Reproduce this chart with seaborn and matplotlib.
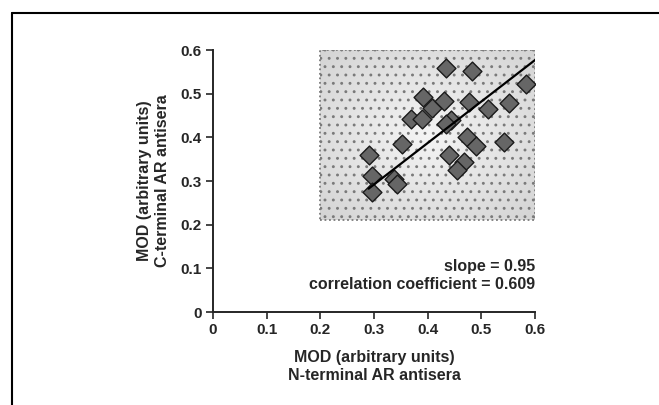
import numpy as np
import pandas as pd
import seaborn as sns
import matplotlib.pyplot as plt
from matplotlib.patches import Rectangle
from matplotlib.lines import Line2D

# MOD values
n_terminal = [0.434, 0.483, 0.583, 0.391, 0.409, 0.430, 0.477, 0.512, 0.551,
              0.369, 0.389, 0.443, 0.435, 0.353, 0.473, 0.490, 0.542, 0.291,
              0.440, 0.467, 0.454, 0.296, 0.338, 0.343, 0.296]
c_terminal = [0.558, 0.553, 0.522, 0.492, 0.468, 0.483, 0.480, 0.464, 0.478,
              0.441, 0.443, 0.440, 0.430, 0.384, 0.400, 0.380, 0.389, 0.359,
              0.359, 0.343, 0.325, 0.312, 0.304, 0.293, 0.275]
slope = 0.95
intercept = 0.007
fit_range = [0.29, 0.6]
box_x = [0.2, 0.6]
box_y = [0.21, 0.6]
ticks = [0, 0.1, 0.2, 0.3, 0.4, 0.5, 0.6]
tick_labels = ['0', '0.1', '0.2', '0.3', '0.4', '0.5', '0.6']

df = pd.DataFrame({'N': n_terminal, 'C': c_terminal})

sns.set_style('ticks')
plt.rcParams['font.family'] = ['Liberation Sans', 'DejaVu Sans']
plt.rcParams['hatch.color'] = '#b4b4b4'
plt.rcParams['hatch.linewidth'] = 0.9

fig = plt.figure(figsize=(6.59, 4.05), dpi=100)
ax = fig.add_axes([0.3232, 0.2296, 0.4886, 0.6469])

# shaded region: soft radial gradient (light centre) with a dotted screen
gx, gy = np.meshgrid(np.linspace(-1, 1, 120), np.linspace(-1, 1, 120))
grad = np.sqrt(gx ** 2 + gy ** 2) / np.sqrt(2)
shade = 0.96 - 0.13 * grad
rgb = np.dstack([shade, shade, shade])
ax.imshow(rgb, extent=[box_x[0], box_x[1], box_y[0], box_y[1]], origin='lower',
          aspect='auto', zorder=1, interpolation='bilinear')
ax.add_patch(Rectangle((box_x[0], box_y[0]), box_x[1] - box_x[0], box_y[1] - box_y[0],
                       facecolor='none', edgecolor='#7a7a7a', linestyle=(0, (1, 1.5)),
                       linewidth=1.3, hatch='..', zorder=2))

sns.scatterplot(data=df, x='N', y='C', marker='D', s=92, color='#666666',
                edgecolor='#1a1a1a', linewidth=1.0, ax=ax, zorder=3, legend=False)

xs = np.array(fit_range)
ax.plot(xs, slope * xs + intercept, color='black', linewidth=1.6, zorder=4)

ax.set_xlim(0, 0.6)
ax.set_ylim(0, 0.6)
ax.set_xticks(ticks)
ax.set_yticks(ticks)
ax.set_xticklabels(tick_labels, fontsize=11, fontweight='bold')
ax.set_yticklabels(tick_labels, fontsize=11, fontweight='bold')
ax.tick_params(direction='out', length=5, width=1.2, pad=3)
sns.despine(ax=ax)
for s in ['left', 'bottom']:
    ax.spines[s].set_linewidth(1.4)
for lab in ax.get_xticklabels():
    lab.set_clip_on(False)

ax.set_xlabel('MOD (arbitrary units)\nN-terminal AR antisera', fontsize=11.5,
              fontweight='bold', linespacing=1.25, labelpad=9)
ax.set_ylabel('MOD (arbitrary units)\nC-terminal AR antisera', fontsize=11.5,
              fontweight='bold', linespacing=1.2, labelpad=8)

ax.text(0.6, 0.104, 'slope = 0.95', ha='right', va='center', fontsize=11.5,
        fontweight='bold')
ax.text(0.6, 0.062, 'correlation coefficient = 0.609', ha='right', va='center',
        fontsize=11.5, fontweight='bold')

# outer frame (top and left edges visible)
fig.add_artist(Line2D([11.5 / 659, 1.0], [1 - 12.5 / 405, 1 - 12.5 / 405],
                      color='black', linewidth=1.5))
fig.add_artist(Line2D([11.5 / 659, 11.5 / 659], [0.0, 1 - 12.5 / 405],
                      color='black', linewidth=1.5))

fig.savefig('out.png', dpi=100)
